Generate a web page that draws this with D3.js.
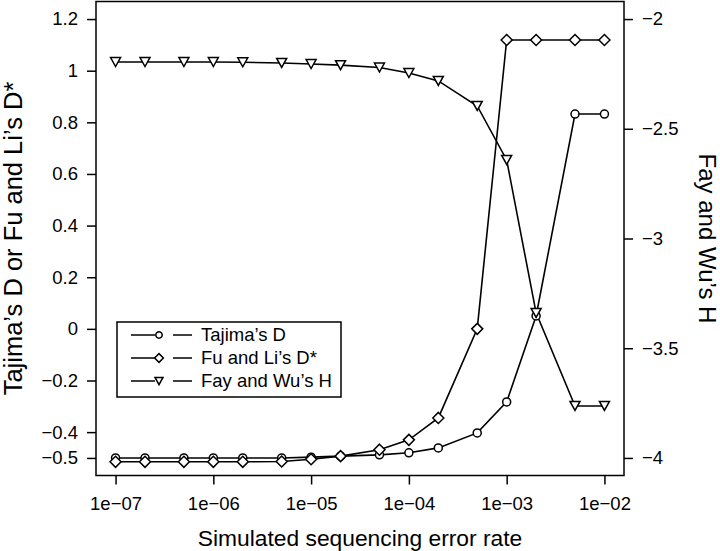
<!DOCTYPE html>
<html>
<head>
<meta charset="utf-8">
<script src="https://cdn.jsdelivr.net/npm/d3@7"></script>
<style>
  body { margin: 0; background: #fff; }
  text { font-family: "Liberation Sans", Arial, Helvetica, sans-serif; }
</style>
</head>
<body>
<div id="chart"></div>
<script>
// error rates on the x axis
const rates = [1e-7, 2e-7, 5e-7, 1e-6, 2e-6, 5e-6, 1e-5, 2e-5, 5e-5, 1e-4, 2e-4, 5e-4, 1e-3, 2e-3, 5e-3, 1e-2];
// left axis series
const tajimaD = [-0.500, -0.500, -0.500, -0.500, -0.500, -0.500, -0.497, -0.493, -0.488, -0.480, -0.461, -0.403, -0.283, 0.050, 0.832, 0.832];
const fuLiD = [-0.515, -0.515, -0.515, -0.515, -0.515, -0.514, -0.505, -0.493, -0.468, -0.430, -0.345, 0.000, 1.119, 1.119, 1.119, 1.119];
// right axis series
const fayWuH = [-2.196, -2.196, -2.196, -2.196, -2.197, -2.200, -2.205, -2.210, -2.221, -2.246, -2.282, -2.396, -2.642, -3.339, -3.763, -3.763];

const xTicks = [1e-7, 1e-6, 1e-5, 1e-4, 1e-3, 1e-2];
const xTickLabels = ["1e\u221207", "1e\u221206", "1e\u221205", "1e\u221204", "1e\u221203", "1e\u221202"];
const leftTicks = [-0.5, -0.4, -0.2, 0, 0.2, 0.4, 0.6, 0.8, 1, 1.2];
const rightTicks = [-4, -3.5, -3, -2.5, -2];

const legendNames = ["Tajima\u2019s D", "Fu and Li\u2019s D*", "Fay and Wu\u2019s H"];

const W = 720, H = 551;
const margin = { top: 1.5, right: 96, bottom: 75.5, left: 96 };
const fmt = v => String(v).replace("-", "\u2212");

const svg = d3.select("#chart").append("svg")
    .attr("width", W)
    .attr("height", H);

// R style: data range padded by 4% each side
const x = d3.scaleLog()
    .domain([Math.pow(10, -7.2), Math.pow(10, -1.8)])
    .range([margin.left, W - margin.right]);
const yL = d3.scaleLinear()
    .domain([-0.568, 1.268])
    .range([H - margin.bottom, margin.top]);
const yR = d3.scaleLinear()
    .domain([-4.08, -1.92])
    .range([H - margin.bottom, margin.top]);

// axes
const xAxis = svg.append("g")
    .attr("transform", `translate(0,${H - margin.bottom})`)
    .call(d3.axisBottom(x).tickValues(xTicks).tickFormat((d, i) => xTickLabels[i]).tickSize(9).tickPadding(12));
const lAxis = svg.append("g")
    .attr("transform", `translate(${margin.left},0)`)
    .call(d3.axisLeft(yL).tickValues(leftTicks).tickFormat(fmt).tickSize(9).tickPadding(9));
const rAxis = svg.append("g")
    .attr("transform", `translate(${W - margin.right},0)`)
    .call(d3.axisRight(yR).tickValues(rightTicks).tickFormat(fmt).tickSize(9).tickPadding(9));

[xAxis, lAxis, rAxis].forEach(a => {
    a.select(".domain").remove();
    a.selectAll("line").attr("stroke", "#000").attr("stroke-width", 1.5);
    a.selectAll("text").attr("fill", "#000").style("font-size", "18.5px")
        .style("font-family", '"Liberation Sans", Arial, sans-serif');
});

// box
svg.append("rect")
    .attr("x", margin.left)
    .attr("y", margin.top)
    .attr("width", W - margin.left - margin.right)
    .attr("height", H - margin.top - margin.bottom)
    .attr("fill", "none")
    .attr("stroke", "#000")
    .attr("stroke-width", 1.5);

// axis titles
svg.append("text")
    .attr("x", (margin.left + W - margin.right) / 2)
    .attr("y", 546)
    .attr("text-anchor", "middle")
    .style("font-size", "22.8px")
    .text("Simulated sequencing error rate");
svg.append("text")
    .attr("transform", `translate(22,${(margin.top + H - margin.bottom) / 2}) rotate(-90)`)
    .attr("text-anchor", "middle")
    .style("font-size", "25.5px")
    .text("Tajima\u2019s D or Fu and Li\u2019s D*");
svg.append("text")
    .attr("transform", `translate(699,${(margin.top + H - margin.bottom) / 2}) rotate(90)`)
    .attr("text-anchor", "middle")
    .style("font-size", "24px")
    .text("Fay and Wu\u2019s H");

// marker drawing
function marker(g, kind, s) {
    if (kind === "circle") {
        g.append("circle").attr("r", 4 * s);
    } else if (kind === "diamond") {
        const r = 5.5 * s;
        g.append("path").attr("d", `M0,${-r}L${r},0L0,${r}L${-r},0Z`);
    } else {
        const w = 5 * s, h = 4.5 * s;
        g.append("path").attr("d", `M${-w},${-h}L${w},${-h}L0,${h}Z`);
    }
}

const series = [
    { values: tajimaD, y: yL, kind: "circle" },
    { values: fuLiD, y: yL, kind: "diamond" },
    { values: fayWuH, y: yR, kind: "triangle" }
];

series.forEach(s => {
    const line = d3.line()
        .x((d, i) => x(rates[i]))
        .y(d => s.y(d));
    svg.append("path")
        .datum(s.values)
        .attr("d", line)
        .attr("fill", "none")
        .attr("stroke", "#000")
        .attr("stroke-width", 1.6);
});

series.forEach(s => {
    svg.append("g")
        .selectAll("g")
        .data(s.values)
        .join("g")
        .attr("transform", (d, i) => `translate(${x(rates[i])},${s.y(d)})`)
        .each(function () {
            marker(d3.select(this), s.kind, 1);
        })
        .selectAll("circle, path")
        .attr("fill", "#fff")
        .attr("stroke", "#000")
        .attr("stroke-width", 1.5);
});

// legend
const leg = svg.append("g");
leg.append("rect")
    .attr("x", 117).attr("y", 322)
    .attr("width", 224).attr("height", 75)
    .attr("fill", "#fff")
    .attr("stroke", "#000")
    .attr("stroke-width", 1.5);

const rows = leg.selectAll("g.row")
    .data(series)
    .join("g")
    .attr("class", "row")
    .attr("transform", (d, i) => `translate(0,${335 + i * 23})`);
rows.append("line").attr("x1", 131).attr("x2", 155).attr("y1", 0).attr("y2", 0);
rows.append("line").attr("x1", 173).attr("x2", 192).attr("y1", 0).attr("y2", 0);
rows.selectAll("line").attr("stroke", "#000").attr("stroke-width", 1.5);
rows.append("g")
    .attr("transform", "translate(159,0)")
    .each(function (d) { marker(d3.select(this), d.kind, 0.8); })
    .selectAll("circle, path")
    .attr("fill", "#fff")
    .attr("stroke", "#000")
    .attr("stroke-width", 1.5);
rows.append("text")
    .attr("x", 201)
    .attr("y", 0)
    .attr("dy", "0.35em")
    .style("font-size", "18.5px")
    .text((d, i) => legendNames[i]);
</script>
</body>
</html>
